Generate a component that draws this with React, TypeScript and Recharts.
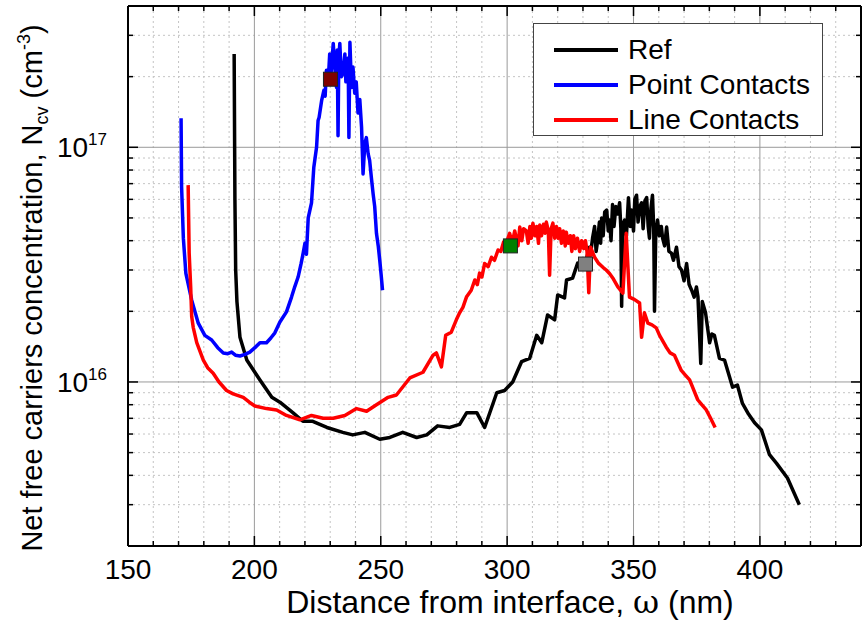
import React from "react";
import {
  CartesianGrid,
  ComposedChart,
  Legend,
  Line,
  Scatter,
  XAxis,
  YAxis,
} from "recharts";

const FONT = "'Liberation Sans', Arial, sans-serif";

// Ref sample
const refX = [
  192.0, 192.3, 192.6, 193.1, 194.3, 197.0, 202.2, 206.9, 210.1, 215.2, 219.2, 223.1, 228.7, 235.0,
  238.9, 243.7, 249.6, 253.6, 258.7, 264.2, 268.2, 272.5, 277.3, 281.2, 284.0, 288.0, 291.1, 295.9,
  299.0, 302.2, 305.7, 308.9, 311.7, 313.7, 316.0, 318.8, 320.0, 322.7, 323.5, 325.9, 327.9, 330.7,
  332.6, 333.0, 333.8, 334.6, 335.2, 335.8, 336.5, 337.0, 337.4, 338.0, 338.6, 339.4, 340.0, 340.5,
  341.1, 341.7, 342.3, 343.0, 343.7, 344.5, 345.0, 345.3, 345.8, 346.5, 347.2, 348.0, 348.7, 349.2,
  350.0, 350.5, 351.2, 351.8, 352.5, 353.2, 353.8, 354.5, 355.2, 355.8, 356.3, 356.9, 357.5, 358.0,
  358.3, 358.8, 359.5, 360.2, 361.0, 361.5, 362.3, 363.1, 364.0, 365.0, 365.8, 367.0, 368.0, 369.0,
  370.0, 371.0, 372.0, 373.0, 374.0, 374.9, 375.5, 376.6, 377.2, 378.5, 380.1, 381.0, 382.0, 384.0,
  386.0, 389.2, 391.1, 393.1, 395.5, 397.9, 400.6, 403.8, 406.6, 410.9, 415.6,
];
const refY = [
  2.5e17, 6e16, 3e16, 2.2e16, 1.55e16, 1.24e16, 1.02e16, 8.6e15, 8.2e15, 7.4e15, 6.8e15, 6.8e15, 6.4e15, 6.1e15,
  5.95e15, 6.1e15, 5.7e15, 5.8e15, 6.1e15, 5.8e15, 5.95e15, 6.5e15, 6.4e15, 6.6e15, 7.4e15, 7.4e15, 6.4e15, 9.0e15,
  9.2e15, 1.0e16, 1.22e16, 1.26e16, 1.58e16, 1.47e16, 1.93e16, 1.84e16, 2.35e16, 2.28e16, 2.72e16, 2.77e16, 3.21e16, 3.15e16,
  3.75e16, 3.5e16, 4.1e16, 4.6e16, 3.6e16, 4.0e16, 4.8e16, 3.9e16, 5.0e16, 4.2e16, 5.3e16, 5.4e16, 4.4e16, 4.9e16,
  4.0e16, 5.7e16, 4.6e16, 5.6e16, 5.2e16, 5.8e16, 4.5e16, 2.1e16, 4.7e16, 4.9e16, 4.2e16, 6.1e16, 4.6e16, 5.4e16,
  4.4e16, 6.0e16, 6.25e16, 4.8e16, 5.6e16, 5.8e16, 4.5e16, 5.9e16, 6.1e16, 4.6e16, 4.1e16, 5.5e16, 6.25e16, 4.5e16,
  2.0e16, 4.3e16, 4.9e16, 4.2e16, 4.6e16, 4.1e16, 3.8e16, 4.57e16, 3.6e16, 3.54e16, 3.3e16, 3.75e16, 3.1e16, 3.0e16,
  2.7e16, 3.2e16, 2.6e16, 2.46e16, 2.3e16, 2.54e16, 2.3e16, 1.2e16, 2.2e16, 1.97e16, 1.47e16, 1.6e16, 1.58e16, 1.26e16,
  1.24e16, 9.5e15, 9.7e15, 8.1e15, 7.3e15, 6.7e15, 6.25e15, 4.9e15, 4.5e15, 3.9e15, 3.0e15,
];

// Point Contacts
const pointX = [
  171.0, 171.2, 171.9, 172.9, 175.2, 177.8, 180.4, 183.1, 185.5, 187.7, 189.5, 191.0, 192.5, 194.3,
  196.3, 198.2, 200.2, 202.2, 204.8, 206.5, 208.1, 210.1, 212.7, 214.7, 216.0, 217.3, 218.5, 219.3,
  220.0, 220.6, 221.3, 222.6, 223.5, 224.6, 225.2, 225.6, 226.6, 227.5, 228.0, 228.5, 229.2, 229.8,
  230.4, 231.2, 231.8, 232.5, 232.8, 233.1, 233.4, 233.8, 234.4, 235.1, 235.8, 236.2, 236.7, 237.1,
  237.4, 237.8, 238.4, 239.0, 239.7, 240.3, 241.0, 241.7, 242.4, 243.0, 243.7, 244.3, 245.0, 245.6,
  246.3, 247.0, 247.6, 248.3, 249.0, 249.6, 250.1, 250.7,
];
const pointY = [
  1.33e17, 6.8e16, 4.1e16, 2.9e16, 2.23e16, 1.78e16, 1.58e16, 1.51e16, 1.4e16, 1.33e16, 1.32e16, 1.34e16, 1.3e16, 1.29e16,
  1.31e16, 1.34e16, 1.4e16, 1.47e16, 1.47e16, 1.54e16, 1.62e16, 1.8e16, 1.99e16, 2.3e16, 2.55e16, 2.8e16, 3.2e16, 3.54e16,
  3.9e16, 3.5e16, 5.0e16, 5.8e16, 8.2e16, 1.0e17, 1.3e17, 1.34e17, 1.58e17, 1.75e17, 1.65e17, 2.13e17, 1.9e17, 2.5e17,
  2.1e17, 2.77e17, 2.2e17, 1.8e17, 2.6e17, 1.12e17, 2.4e17, 2.77e17, 2.0e17, 2.07e17, 2.5e17, 1.9e17, 1.93e17, 2.4e17,
  1.1e17, 2.8e17, 1.8e17, 2.2e17, 1.7e17, 1.9e17, 1.4e17, 1.6e17, 1.22e17, 7.7e16, 1.04e17, 1.1e17, 9.4e16, 8.8e16,
  7.4e16, 6.3e16, 5.6e16, 4.3e16, 3.8e16, 3.3e16, 2.9e16, 2.46e16,
];

// Line Contacts
const lineX = [
  173.8, 174.2, 174.8, 175.2, 175.8, 177.2, 179.8, 181.5, 183.7, 186.0, 189.0, 191.6, 195.6, 198.0,
  200.2, 204.8, 208.8, 212.7, 218.0, 222.6, 227.2, 231.2, 235.8, 240.4, 244.4, 248.3, 252.9, 256.2,
  261.5, 266.7, 270.7, 272.0, 274.0, 275.7, 277.9, 279.9, 281.2, 282.5, 283.9, 285.8, 287.2, 288.2,
  289.1, 290.0, 291.1, 292.5, 293.8, 295.0, 296.4, 297.5, 298.6, 300.0, 301.0, 302.0, 303.0, 303.6,
  304.3, 305.0, 305.8, 306.5, 307.6, 308.3, 309.0, 309.6, 310.2, 311.0, 311.7, 312.4, 312.9, 313.6,
  314.4, 315.0, 315.5, 316.3, 316.8, 317.4, 318.1, 318.8, 319.5, 320.2, 320.8, 321.5, 322.2, 323.0,
  323.4, 324.2, 325.0, 325.6, 326.3, 327.0, 327.8, 328.7, 329.5, 330.3, 331.0, 331.6, 332.3, 333.0,
  334.6, 336.2, 337.9, 339.2, 340.5, 342.0, 343.8, 345.8, 347.1, 348.4, 350.3, 352.4, 353.2, 354.3,
  355.7, 357.3, 359.0, 360.3, 362.9, 364.5, 366.2, 368.9, 370.5, 372.2, 375.4, 377.0, 378.8, 380.5,
  382.3,
];
const lineY = [
  6.9e16, 3.54e16, 2.54e16, 1.9e16, 1.71e16, 1.47e16, 1.24e16, 1.15e16, 1.09e16, 1.0e16, 9.2e15, 8.9e15, 8.6e15, 8.2e15,
  7.9e15, 7.7e15, 7.6e15, 7.2e15, 6.9e15, 7.2e15, 7.0e15, 7.0e15, 7.2e15, 7.7e15, 7.5e15, 8.0e15, 8.6e15, 8.8e15,
  1.04e16, 1.1e16, 1.3e16, 1.33e16, 1.16e16, 1.58e16, 1.63e16, 1.84e16, 1.97e16, 2.08e16, 2.3e16, 2.46e16, 2.72e16, 2.6e16,
  2.91e16, 2.8e16, 3.2e16, 3.1e16, 3.4e16, 3.3e16, 3.65e16, 3.6e16, 3.95e16, 4.0e16, 4.3e16, 3.9e16, 4.4e16, 4.1e16,
  3.8e16, 4.57e16, 4.0e16, 4.5e16, 4.4e16, 3.9e16, 4.6e16, 4.1e16, 4.75e16, 4.2e16, 4.6e16, 3.9e16, 4.66e16, 4.2e16,
  4.7e16, 4.3e16, 4.8e16, 4.4e16, 2.85e16, 4.5e16, 4.75e16, 4.1e16, 4.6e16, 4.1e16, 4.5e16, 3.9e16, 4.4e16, 3.8e16,
  4.35e16, 3.9e16, 4.2e16, 3.6e16, 4.2e16, 3.7e16, 4.1e16, 3.6e16, 4.0e16, 3.7e16, 4.0e16, 3.6e16, 2.4e16, 3.75e16,
  3.4e16, 3.2e16, 3.08e16, 3.0e16, 2.9e16, 2.75e16, 2.54e16, 2.39e16, 4.3e16, 2.3e16, 2.25e16, 2.17e16, 1.55e16, 1.97e16,
  1.78e16, 1.75e16, 1.7e16, 1.58e16, 1.41e16, 1.33e16, 1.3e16, 1.12e16, 1.07e16, 1.02e16, 8.4e15, 8.0e15, 7.6e15, 7.0e15,
  6.4e15,
];

const series = [
  { name: "Ref", color: "#000000", x: refX, y: refY },
  { name: "Point Contacts", color: "#0000ff", x: pointX, y: pointY },
  { name: "Line Contacts", color: "#ff0000", x: lineX, y: lineY },
];

// square markers
const markerX = [230.1, 301.3, 331.0];
const markerY = [1.95e17, 3.8e16, 3.18e16];
const markerColors = ["#800000", "#008000", "#808080"];

const xDomain = [150, 440];
const yDomain = [2e15, 4e17];
const xTicks = Array.from({ length: 30 }, (_, i) => 150 + i * 10);
const xMajor = [200, 250, 300, 350, 400];
const xLabels = [150, 200, 250, 300, 350, 400];
const yTicks = [
  2e15, 3e15, 4e15, 5e15, 6e15, 7e15, 8e15, 9e15,
  1e16, 2e16, 3e16, 4e16, 5e16, 6e16, 7e16, 8e16, 9e16,
  1e17, 2e17, 3e17, 4e17,
];
const yMajor = [1e16, 1e17];

const isDecade = (v: number) => Math.abs(Math.log10(v) - Math.round(Math.log10(v))) < 1e-9;

const scaleOf = (axis: any) => {
  const s = axis?.scale;
  if (!s) return null;
  if (typeof s === "function") return s;
  if (typeof s.map === "function") return (v: number) => s.map(v);
  return null;
};
const vGen = (vals: number[]) => (p: any) => {
  const f = scaleOf(p.xAxis);
  return f ? vals.map((v) => f(v)) : [];
};
const hGen = (vals: number[]) => (p: any) => {
  const f = scaleOf(p.yAxis);
  return f ? vals.map((v) => f(v)) : [];
};

const BottomTick = (props: any) => {
  const { x, y, payload } = props;
  const v = payload.value;
  const major = v % 50 === 0;
  return (
    <g>
      <line x1={x} x2={x} y1={y} y2={y - (major ? 10 : 5)} stroke="#000" strokeWidth={1.5} />
      {xLabels.includes(v) && (
        <text x={x} y={y + 33} textAnchor="middle" fontSize={28} fontFamily={FONT} fill="#000">
          {v}
        </text>
      )}
    </g>
  );
};

const TopTick = (props: any) => {
  const { x, y, payload } = props;
  const major = payload.value % 50 === 0;
  return <line x1={x} x2={x} y1={y} y2={y + (major ? 10 : 5)} stroke="#000" strokeWidth={1.5} />;
};

const LeftTick = (props: any) => {
  const { x, y, payload } = props;
  const v = payload.value;
  const major = isDecade(v);
  return (
    <g>
      <line x1={x} x2={x + (major ? 10 : 5)} y1={y} y2={y} stroke="#000" strokeWidth={1.5} />
      {yMajor.includes(v) && (
        <text x={x - 21} y={y + 10} textAnchor="end" fontSize={28} fontFamily={FONT} fill="#000">
          10
          <tspan dy={-12} fontSize={17}>
            {Math.round(Math.log10(v))}
          </tspan>
        </text>
      )}
    </g>
  );
};

const RightTick = (props: any) => {
  const { x, y, payload } = props;
  const major = isDecade(payload.value);
  return <line x1={x} x2={x - (major ? 10 : 5)} y1={y} y2={y} stroke="#000" strokeWidth={1.5} />;
};

const XTitle = () => (
  <text x={510} y={613} textAnchor="middle" fontSize={32} fontFamily={FONT} fill="#000">
    Distance from interface, <tspan fontFamily="'DejaVu Serif', serif">ω</tspan> (nm)
  </text>
);

const YTitle = () => (
  <text
    x={42}
    y={288}
    transform="rotate(-90 42 288)"
    textAnchor="middle"
    fontSize={29}
    fontFamily={FONT}
    fill="#000"
  >
    Net free carriers concentration, N
    <tspan fontSize={18} dy={6}>
      cv
    </tspan>
    <tspan dy={-6}> (cm</tspan>
    <tspan fontSize={18} dy={-12}>
      -3
    </tspan>
    <tspan dy={12}>)</tspan>
  </text>
);

const LegendBox = () => (
  <div
    style={{
      width: 290,
      height: 113,
      boxSizing: "border-box",
      border: "1px solid #444",
      background: "#fff",
      paddingTop: 8,
      fontFamily: FONT,
      fontSize: 28,
      color: "#000",
    }}
  >
    {series.map((s) => (
      <div key={s.name} style={{ display: "flex", alignItems: "center", height: 35 }}>
        <div style={{ width: 64, height: 4, background: s.color, marginLeft: 20, marginRight: 10 }} />
        <span style={{ lineHeight: "35px" }}>{s.name}</span>
      </div>
    ))}
  </div>
);

export default function App() {
  const lines = series.map((s) => ({
    ...s,
    data: s.x.map((x, i) => ({ x, y: s.y[i] })),
  }));
  return (
    <div style={{ position: "absolute", left: 0, top: 0, width: 863, height: 622, background: "#fff" }}>
      <ComposedChart width={863} height={622} margin={{ top: 0, right: 0, bottom: 0, left: 0 }}>
        <XAxis
          xAxisId="b"
          dataKey="x"
          type="number"
          domain={xDomain}
          allowDataOverflow
          ticks={xTicks}
          interval={0}
          tickSize={0}
          tickMargin={0}
          height={76}
          axisLine={{ stroke: "#000", strokeWidth: 2 }}
          tickLine={false}
          tick={<BottomTick />}
          label={<XTitle />}
        />
        <XAxis
          xAxisId="t"
          orientation="top"
          dataKey="x"
          type="number"
          domain={xDomain}
          allowDataOverflow
          ticks={xTicks}
          interval={0}
          tickSize={0}
          tickMargin={0}
          height={6}
          axisLine={{ stroke: "#000", strokeWidth: 2 }}
          tickLine={false}
          tick={<TopTick />}
        />
        <YAxis
          yAxisId="l"
          dataKey="y"
          type="number"
          scale="log"
          domain={yDomain}
          allowDataOverflow
          ticks={yTicks}
          interval={0}
          tickSize={0}
          tickMargin={0}
          width={128}
          axisLine={{ stroke: "#000", strokeWidth: 2 }}
          tickLine={false}
          tick={<LeftTick />}
          label={<YTitle />}
        />
        <YAxis
          yAxisId="r"
          orientation="right"
          dataKey="y"
          type="number"
          scale="log"
          domain={yDomain}
          allowDataOverflow
          ticks={yTicks}
          interval={0}
          tickSize={0}
          tickMargin={0}
          width={2}
          axisLine={{ stroke: "#000", strokeWidth: 2 }}
          tickLine={false}
          tick={<RightTick />}
        />
        <CartesianGrid
          xAxisId="b"
          yAxisId="l"
          stroke="#c4c4c4"
          strokeDasharray="2 3"
          verticalCoordinatesGenerator={vGen(xTicks.filter((v) => !xMajor.includes(v)))}
          horizontalCoordinatesGenerator={hGen(yTicks.filter((v) => !isDecade(v)))}
        />
        <CartesianGrid
          xAxisId="b"
          yAxisId="l"
          stroke="#9a9a9a"
          verticalCoordinatesGenerator={vGen(xMajor)}
          horizontalCoordinatesGenerator={hGen(yMajor)}
        />
        {lines.map((s) => (
          <Line
            key={s.name}
            xAxisId="b"
            yAxisId="l"
            data={s.data}
            dataKey="y"
            name={s.name}
            type="linear"
            stroke={s.color}
            strokeWidth={3.5}
            strokeLinejoin="round"
            dot={false}
            activeDot={false}
            isAnimationActive={false}
          />
        ))}
        {markerX.map((x, i) => (
          <Scatter
            key={i}
            xAxisId="b"
            yAxisId="l"
            data={[{ x, y: markerY[i] }]}
            dataKey="y"
            legendType="none"
            isAnimationActive={false}
            shape={(p: any) => (
              <rect
                x={p.cx - 7}
                y={p.cy - 7}
                width={14}
                height={14}
                fill={markerColors[i]}
                stroke="#222"
                strokeWidth={1}
              />
            )}
          />
        ))}
        <Legend
          layout="vertical"
          align="center"
          verticalAlign="middle"
          wrapperStyle={{ position: "absolute", left: 533, top: 23, width: 290, height: 113 }}
          content={() => <LegendBox />}
        />
      </ComposedChart>
    </div>
  );
}
